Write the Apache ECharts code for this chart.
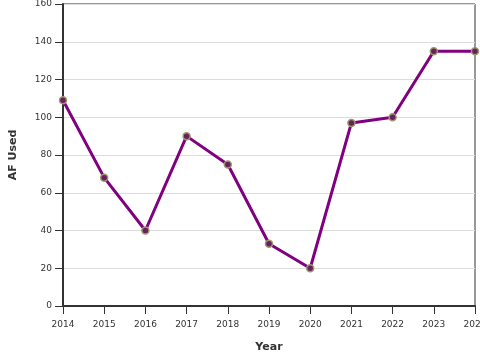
<!DOCTYPE html>
<html><head><meta charset="utf-8">
<script src="https://cdn.jsdelivr.net/npm/echarts@6/dist/echarts.min.js"></script>
<style>html,body{margin:0;padding:0;background:#fff}#c{width:480px;height:360px}</style>
</head><body><div id="c"></div>
<script>
const years = [2014,2015,2016,2017,2018,2019,2020,2021,2022,2023,2024];
const afUsed = [109,68,40,90,75,33,20,97,100,135,135];
const chart = echarts.init(document.getElementById('c'));
chart.setOption({
  animation:false,
  grid:{left:63,right:5,top:4,bottom:54,containLabel:false,outerBoundsMode:'none',show:true,borderColor:'#333',borderWidth:1,backgroundColor:'transparent'},
  xAxis:{type:'value',min:2014,max:2024,interval:1,name:'Year',nameLocation:'middle',nameGap:36,
    nameTextStyle:{fontFamily:'DejaVu Sans',fontSize:11,fontWeight:'bold',color:'#333'},
    axisLine:{lineStyle:{color:'#333',width:2}},axisTick:{show:true,length:8,lineStyle:{color:'#333'}},
    axisLabel:{fontFamily:'DejaVu Sans',fontSize:9,color:'#333',margin:14,formatter:v=>String(v)},
    splitLine:{show:false}},
  yAxis:{type:'value',min:0,max:160,interval:20,name:'AF Used',nameLocation:'middle',nameGap:44,
    nameTextStyle:{fontFamily:'DejaVu Sans',fontSize:11,fontWeight:'bold',color:'#333'},
    axisLine:{show:true,lineStyle:{color:'#333',width:2}},axisTick:{show:true,length:8,lineStyle:{color:'#333'}},
    axisLabel:{fontFamily:'DejaVu Sans',fontSize:9,color:'#333',margin:11},
    splitLine:{show:true,lineStyle:{color:'#ddd',width:1}}},
  series:[{type:'line',data:years.map((y,i)=>[y,afUsed[i]]),
    lineStyle:{color:'#800080',width:3},
    symbol:'circle',symbolSize:7,
    itemStyle:{color:'#6a2060',borderColor:'#9a9a6a',borderWidth:1.5}}]
});
</script></body></html>
